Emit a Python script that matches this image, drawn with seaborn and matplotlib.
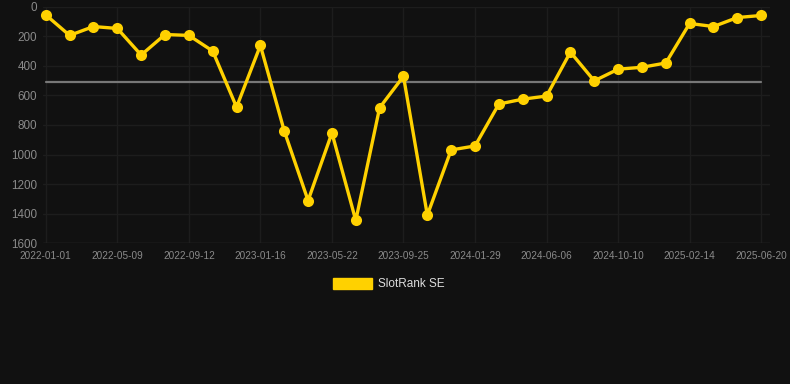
import matplotlib
matplotlib.use("Agg")
import matplotlib.pyplot as plt
from matplotlib.patches import Patch
import pandas as pd
import seaborn as sns

# snapshot dates (x axis, one label shown every third point)
dates = ["2022-01-01", "2022-02-12", "2022-03-27", "2022-05-09", "2022-06-20",
         "2022-08-01", "2022-09-12", "2022-10-24", "2022-12-05", "2023-01-16",
         "2023-02-27", "2023-04-10", "2023-05-22", "2023-07-03", "2023-08-14",
         "2023-09-25", "2023-11-06", "2023-12-18", "2024-01-29", "2024-03-12",
         "2024-04-24", "2024-06-06", "2024-07-18", "2024-08-29", "2024-10-10",
         "2024-11-21", "2025-01-03", "2025-02-14", "2025-03-28", "2025-05-09",
         "2025-06-20"]

# rank values
slotrank_se = [54, 193, 133, 146, 326, 187, 193, 299, 679, 261,
               840, 1312, 854, 1447, 683, 470, 1411, 969, 942, 658,
               625, 604, 306, 501, 422, 409, 380, 112, 133, 72,
               58]

avg_rank = 506
series_name = "SlotRank SE"

df = pd.DataFrame({"idx": range(len(dates)), "date": dates, "rank": slotrank_se})

bg = "#111111"
gold = "#FFD100"

sns.set_style("dark")
plt.rcParams["font.family"] = ["Liberation Sans", "DejaVu Sans"]

fig = plt.figure(figsize=(7.9, 3.84), dpi=100, facecolor=bg)
ax = fig.add_axes([0.054, 0.367, 0.921, 0.615])
ax.set_facecolor(bg)

# average line
ax.plot([0, len(dates) - 1], [avg_rank, avg_rank], color="#777777", lw=1.6, zorder=2)

sns.lineplot(data=df, x="idx", y="rank", ax=ax, color=gold, lw=2.4,
             marker="o", markersize=8, markeredgewidth=0, zorder=3, clip_on=False)

ax.set_xlim(-0.13, 30.38)
ax.set_ylim(1600, 0)
ax.set_yticks([0, 200, 400, 600, 800, 1000, 1200, 1400, 1600])
ticks = list(range(0, len(dates), 3))
ax.set_xticks(ticks)
ax.set_xticklabels([dates[i] for i in ticks])
ax.tick_params(axis="x", colors="#8a8a8a", labelsize=7.2, length=0, pad=6)
ax.tick_params(axis="y", colors="#8a8a8a", labelsize=8.4, length=0, pad=4)
ax.grid(True, color="#1d1d1d", lw=1.0)
ax.set_xlabel("")
ax.set_ylabel("")
for s in ax.spines.values():
    s.set_visible(False)
ax.axhline(1600, color="#2a2a2a", lw=1.0, zorder=1)

fig.legend(handles=[Patch(color=gold, label=series_name)],
           loc="center", bbox_to_anchor=(0.492, 0.26), frameon=False,
           fontsize=8.5, labelcolor="#dddddd", handlelength=3.3,
           handleheight=1.0, handletextpad=0.5)

fig.savefig("out.png", dpi=100, facecolor=bg)
